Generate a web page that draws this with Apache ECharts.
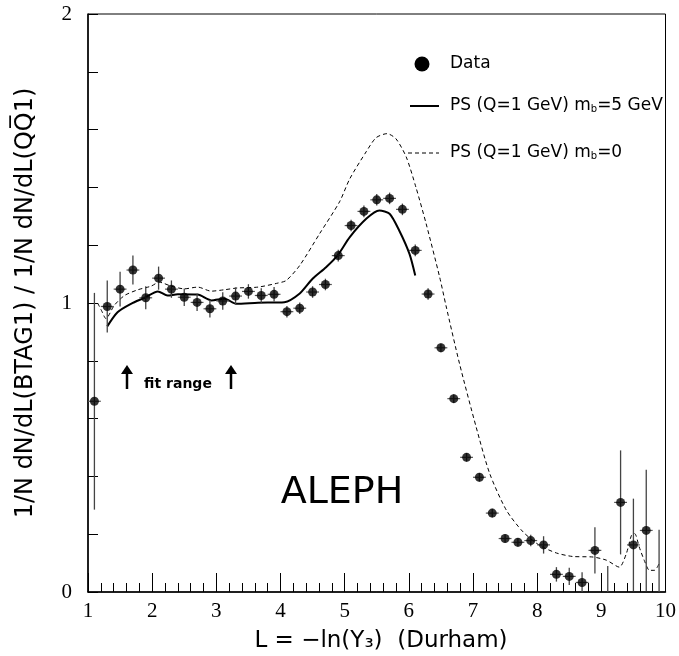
<!DOCTYPE html>
<html><head><meta charset="utf-8">
<script src="https://cdn.jsdelivr.net/npm/echarts@6/dist/echarts.min.js"></script>
<style>html,body{margin:0;padding:0;background:#fff}#c{width:679px;height:656px}</style>
</head><body><div id="c"></div>
<script>
// ---- data ----
const dataL = [1.1,1.3,1.5,1.7,1.9,2.1,2.3,2.5,2.7,2.9,3.1,3.3,3.5,3.7,3.9,4.1,4.3,4.5,4.7,4.9,5.1,5.3,5.5,5.7,5.9,6.1,6.3,6.5,6.7,6.9,7.1,7.3,7.5,7.7,7.9,8.1,8.3,8.5,8.7,8.9,9.1,9.3,9.5,9.7,9.9];
const dataR = [0.66,0.988,1.048,1.114,1.018,1.086,1.048,1.020,1.002,0.980,1.007,1.024,1.040,1.026,1.030,0.970,0.982,1.038,1.064,1.164,1.268,1.317,1.357,1.362,1.324,1.182,1.031,0.845,0.669,0.466,0.397,0.273,0.185,0.172,0.178,0.163,0.061,0.054,0.033,0.144,-0.03,0.310,0.163,0.213,-0.03];
const dataErr = [0.375,0.09,0.06,0.05,0.04,0.04,0.03,0.03,0.03,0.03,0.03,0.03,0.025,0.025,0.025,0.02,0.02,0.02,0.02,0.02,0.02,0.02,0.02,0.02,0.02,0.02,0.02,0.015,0.015,0.015,0.015,0.015,0.015,0.015,0.02,0.03,0.025,0.03,0.035,0.08,0.12,0.18,0.16,0.21,0.245];
const ps5L = [1.30,1.46,1.67,1.88,2.09,2.24,2.40,2.71,2.92,3.13,3.31,3.65,4.06,4.30,4.50,4.71,4.89,5.08,5.34,5.54,5.70,5.85,6.01,6.10];
const ps5R = [0.919,0.968,0.997,1.018,1.040,1.026,1.030,1.029,1.009,1.015,0.997,1.001,1.003,1.033,1.084,1.124,1.165,1.228,1.292,1.320,1.309,1.251,1.170,1.095];
const ps0L = [1.15,1.21,1.28,1.41,1.57,1.78,1.98,2.11,2.30,2.50,2.71,2.92,3.13,3.33,3.65,3.96,4.09,4.30,4.61,4.92,5.08,5.34,5.49,5.66,5.80,5.96,6.11,6.27,6.48,6.58,6.79,7.05,7.26,7.52,7.78,8.04,8.30,8.55,8.87,9.08,9.28,9.39,9.47,9.52,9.59,9.67,9.75,9.83,9.90];
const ps0R = [1.000,0.974,0.946,0.992,1.026,1.046,1.058,1.072,1.058,1.049,1.055,1.041,1.046,1.052,1.055,1.069,1.078,1.130,1.240,1.350,1.430,1.525,1.572,1.586,1.568,1.505,1.401,1.274,1.090,0.990,0.790,0.570,0.410,0.283,0.208,0.161,0.135,0.123,0.121,0.110,0.086,0.133,0.196,0.202,0.156,0.109,0.075,0.075,0.098];
const xTicks = {min: 1, max: 10, step: 1};
const yTicks = {min: 0, max: 2, step: 0.2};
const binHalf = 0.1;

const chart = echarts.init(document.getElementById('c'), null, {renderer: 'canvas'});
const sans = 'DejaVu Sans';
const serif = 'Liberation Serif';

const pts = dataL.map((x, i) => [x, dataR[i], dataErr[i]]);

chart.setOption({
  animation: false,
  backgroundColor: '#fff',
  grid: {left: 88, right: 13, top: 14, bottom: 64, show: true, borderColor: '#000', borderWidth: 1, backgroundColor: 'transparent'},
  xAxis: {
    type: 'value', min: xTicks.min, max: xTicks.max, interval: xTicks.step,
    axisLine: {show: true, lineStyle: {color: '#000', width: 1.5}},
    axisTick: {show: true, inside: true, length: 19, lineStyle: {color: '#000', width: 1}},
    minorTick: {show: true, splitNumber: 5, length: 9, lineStyle: {color: '#000', width: 1}},
    axisLabel: {color: '#000', fontFamily: serif, fontSize: 21, margin: 9},
    splitLine: {show: false}, minorSplitLine: {show: false}
  },
  yAxis: {
    type: 'value', min: yTicks.min, max: yTicks.max, interval: yTicks.step,
    axisLine: {show: true, lineStyle: {color: '#000', width: 1.5}},
    axisTick: {show: true, inside: true, length: 10, lineStyle: {color: '#000', width: 1}},
    axisLabel: {color: '#000', fontFamily: serif, fontSize: 21, margin: 16,
      formatter: v => (Math.abs(v - Math.round(v)) < 1e-6 ? String(Math.round(v)) : '')},
    splitLine: {show: false}
  },
  series: [
    {type: 'line', data: ps0L.map((x, i) => [x, ps0R[i]]), showSymbol: false, smooth: 0.25,
     lineStyle: {color: '#000', width: 1, type: [4, 3]}, z: 2},
    {type: 'line', data: ps5L.map((x, i) => [x, ps5R[i]]), showSymbol: false, smooth: 0.25,
     lineStyle: {color: '#000', width: 2}, z: 3},
    {type: 'custom', data: pts, clip: true, z: 4,
     renderItem: (params, api) => {
       const x = api.value(0), y = api.value(1), e = api.value(2);
       const t = api.coord([x, y + e]), b = api.coord([x, y - e]);
       const l = api.coord([x - binHalf, y]), r = api.coord([x + binHalf, y]);
       return {type: 'group', children: [
         {type: 'line', shape: {x1: t[0], y1: t[1], x2: b[0], y2: b[1]}, style: {stroke: '#444', lineWidth: 1.3}},
         {type: 'line', shape: {x1: l[0], y1: l[1], x2: r[0], y2: r[1]}, style: {stroke: '#555', lineWidth: 1.2}}
       ]};
     }},
    {type: 'scatter', data: pts.map(p => [p[0], p[1]]), symbol: 'circle', symbolSize: 9, clip: true,
     itemStyle: {color: '#000'}, z: 5}
  ],
  graphic: [
    // legend
    {type: 'circle', shape: {cx: 422, cy: 64, r: 7.5}, style: {fill: '#000'}},
    {type: 'text', x: 450, y: 64, style: {text: 'Data', font: '17px "DejaVu Sans"', fill: '#000', verticalAlign: 'middle'}},
    {type: 'line', shape: {x1: 410, y1: 106, x2: 439, y2: 106}, style: {stroke: '#000', lineWidth: 2}},
    {type: 'text', x: 450, y: 106, style: {text: 'PS (Q=1 GeV) m{s|b}=5 GeV', font: '17px "DejaVu Sans"', fill: '#000', verticalAlign: 'middle',
      rich: {s: {fontSize: 10, fontFamily: sans, verticalAlign: 'bottom', padding: [6, 0, 0, 0]}}}},
    {type: 'line', shape: {x1: 408, y1: 153, x2: 439, y2: 153}, style: {stroke: '#000', lineWidth: 1, lineDash: [4, 3]}},
    {type: 'text', x: 450, y: 153, style: {text: 'PS (Q=1 GeV) m{s|b}=0', font: '17px "DejaVu Sans"', fill: '#000', verticalAlign: 'middle',
      rich: {s: {fontSize: 10, fontFamily: sans, verticalAlign: 'bottom', padding: [6, 0, 0, 0]}}}},
    // ALEPH
    {type: 'text', x: 342, y: 493, style: {text: 'ALEPH', font: '38px "DejaVu Sans"', fill: '#000', align: 'center', verticalAlign: 'middle'}},
    // fit range
    {type: 'line', shape: {x1: 127, y1: 389, x2: 127, y2: 369}, style: {stroke: '#000', lineWidth: 2.5}},
    {type: 'polygon', shape: {points: [[121, 374], [127, 365], [133, 374]]}, style: {fill: '#000'}},
    {type: 'line', shape: {x1: 231, y1: 389, x2: 231, y2: 369}, style: {stroke: '#000', lineWidth: 2.5}},
    {type: 'polygon', shape: {points: [[225, 374], [231, 365], [237, 374]]}, style: {fill: '#000'}},
    {type: 'text', x: 178, y: 384, style: {text: 'fit range', font: 'bold 14px "DejaVu Sans"', fill: '#000', align: 'center', verticalAlign: 'middle'}},
    // axis titles
    {type: 'text', x: 26, y: 303, rotation: Math.PI / 2,
     style: {text: '1/N dN/dL(BTAG1) / 1/N dN/dL(QQ\u03051)', font: '24px "DejaVu Sans"', fill: '#000', align: 'center', verticalAlign: 'middle'}},
    {type: 'text', x: 381, y: 641, style: {text: 'L = \u2212ln(Y\u2083)  (Durham)', font: '23px "DejaVu Sans"', fill: '#000', align: 'center', verticalAlign: 'middle'}}
  ]
});
</script></body></html>
